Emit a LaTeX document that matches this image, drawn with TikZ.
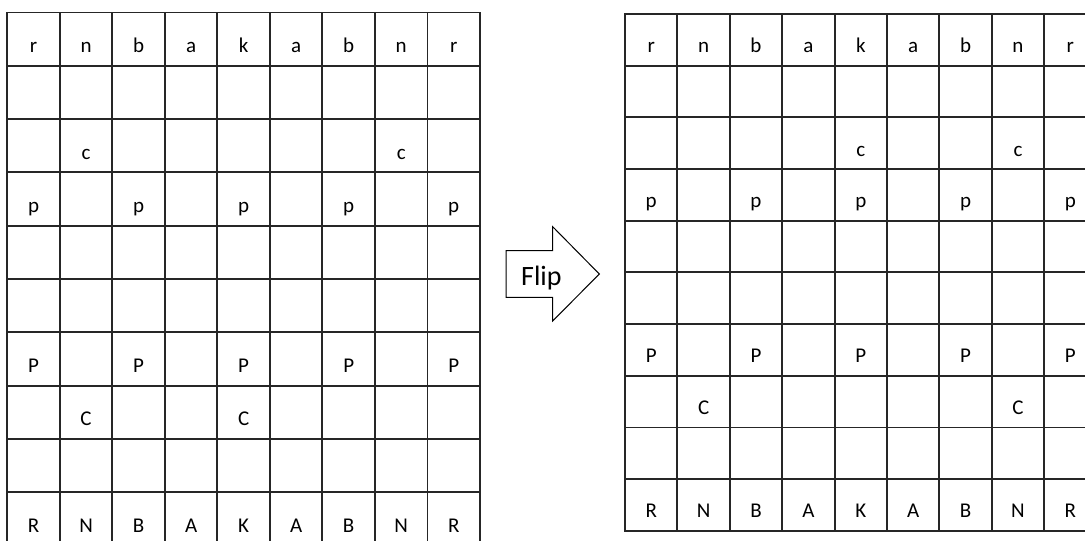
\documentclass[tikz,border=0pt]{standalone}
\usepackage{fontspec}
\setmainfont{Carlito}
\newcommand\boardgrid[4]{%
  \foreach \i in {0,...,9} \draw[gridline] ({#1+\i*#3},#2) -- ({#1+\i*#3},{#2+10*#4});
  \foreach \j in {0,...,10} \draw[gridline] (#1,{#2+\j*#4}) -- ({#1+9*#3},{#2+\j*#4});}
\newcommand\boardpieces[6]{%
  \foreach \c/\r/\t in {#6} \node[piece] (#1-\r-\c) at ({#2+(\c+0.5)*#4},{#3+(\r+0.75)*#5}) {\t};}
\begin{document}
\begin{tikzpicture}[x=1pt,y=-1pt,
  gridline/.style={line width=1.9pt, black!85, line cap=rect},
  piece/.style={anchor=base, inner sep=0pt, font=\fontsize{21}{21}\selectfont},
  arrowline/.style={line width=1pt, black, line join=miter}]
\useasboundingbox (0,0) rectangle (1085,541);
\clip (0,0) rectangle (1085,541);
% left board
\boardgrid{7.3}{12.5}{52.52}{53.3}
\boardpieces{L}{7.3}{12.5}{52.52}{53.3}{0/0/r,1/0/n,2/0/b,3/0/a,4/0/k,5/0/a,6/0/b,7/0/n,8/0/r,
  1/2/c,7/2/c,
  0/3/p,2/3/p,4/3/p,6/3/p,8/3/p,
  0/6/P,2/6/P,4/6/P,6/6/P,8/6/P,
  1/7/C,4/7/C,
  0/9/R,1/9/N,2/9/B,3/9/A,4/9/K,5/9/A,6/9/B,7/9/N,8/9/R}
% right board
\boardgrid{625}{13.9}{52.4}{51.7}
\boardpieces{R}{625}{13.9}{52.4}{51.7}{0/0/r,1/0/n,2/0/b,3/0/a,4/0/k,5/0/a,6/0/b,7/0/n,8/0/r,
  4/2/c,7/2/c,
  0/3/p,2/3/p,4/3/p,6/3/p,8/3/p,
  0/6/P,2/6/P,4/6/P,6/6/P,8/6/P,
  1/7/C,7/7/C,
  0/9/R,1/9/N,2/9/B,3/9/A,4/9/K,5/9/A,6/9/B,7/9/N,8/9/R}
% flip arrow
\draw[arrowline] (506,250.7) -- (552.7,250.7) -- (552.7,226.7) -- (599.3,274)
  -- (552.7,321) -- (552.7,297.3) -- (506,297.3) -- cycle;
\node[anchor=base west, inner sep=0pt, font=\fontsize{28}{28}\selectfont] (flip) at (521,285) {Flip};
\end{tikzpicture}
\end{document}
